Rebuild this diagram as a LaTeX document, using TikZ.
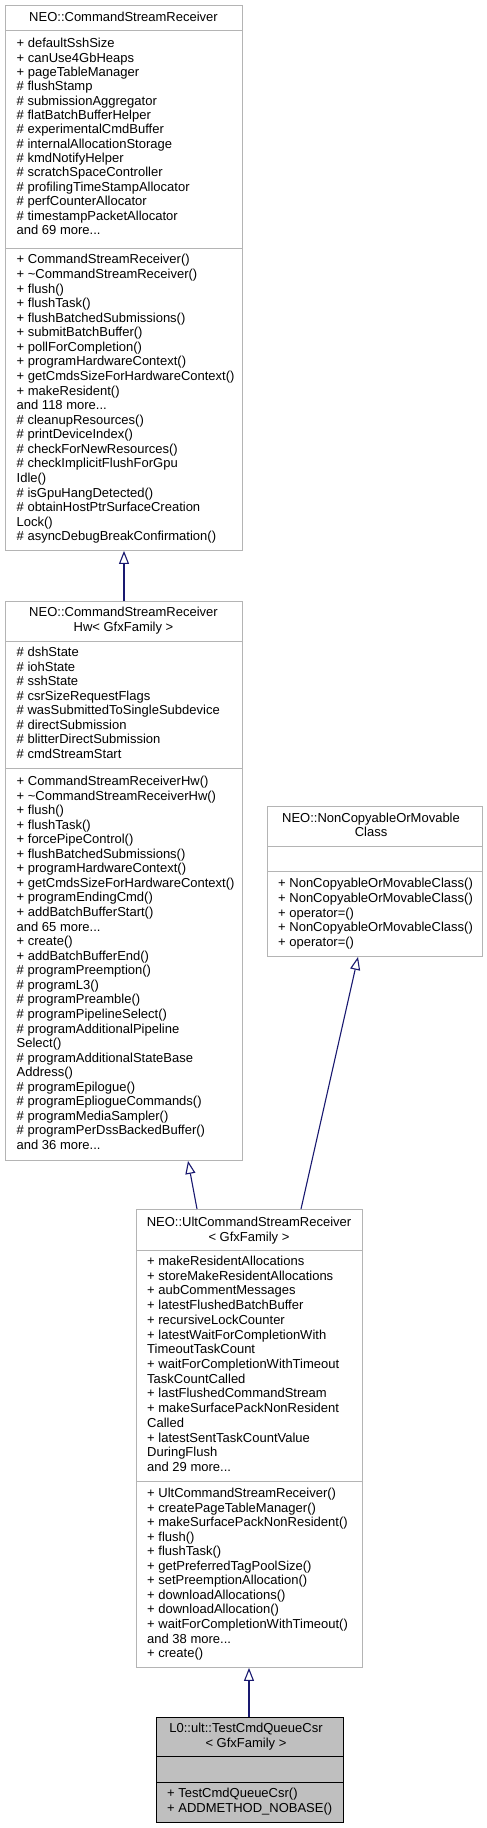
\documentclass[tikz,border=0pt]{standalone}
\usepackage{fontspec}
\setmainfont{Liberation Sans}
\usetikzlibrary{arrows.meta,calc}
\definecolor{boxgray}{RGB}{180,180,180}
\definecolor{edgeblue}{RGB}{25,25,112}
\definecolor{mainfill}{RGB}{191,191,191}
\newcommand\mdots{.{}.{}.}
\newcommand\umllines[5]{%
  \foreach \t [count=\i] in {#5} {
    \node[txt] (#1\i) at (#2, {#3 + (\i-1)*#4 + 4.5}) {\t};
  }%
}
\newcommand\umltitle[5]{%
  \foreach \t [count=\i] in {#5} {
    \node[ttl] (#1\i) at (#2, {#3 + (\i-1)*#4 + 4.5}) {\t};
  }%
}
\begin{document}
\begin{tikzpicture}[x=1pt,y=-1pt,
  cls/.style={draw=boxgray,line width=0.9pt,fill=white,rectangle,inner sep=0pt,anchor=north west},
  mainbox/.style={draw=black,line width=0.9pt,fill=mainfill,rectangle,inner sep=0pt,anchor=north west},
  sepline/.style={draw=boxgray,line width=0.9pt},
  mainsep/.style={draw=black,line width=0.9pt},
  txt/.style={anchor=base west,inner sep=0pt,font=\fontsize{13}{14.5}\selectfont},
  ttl/.style={anchor=base,inner sep=0pt,font=\fontsize{13}{14.5}\selectfont},
  inh/.style={draw=edgeblue,line width=1.1pt,-{Triangle[open,length=13pt,width=10pt,line width=1.1pt]}}
]
\useasboundingbox (0,0) rectangle (487,1828);

% Box 1: CommandStreamReceiver
\node[cls,minimum width=237pt,minimum height=545pt] (csr) at (5,5) {};
\draw[sepline] (csr.west |- 0,30) -- (csr.east |- 0,30);
\draw[sepline] (csr.west |- 0,248) -- (csr.east |- 0,248);
\umltitle{csrT}{123.5}{16.7}{14.5}{NEO::CommandStreamReceiver}
\umllines{csrA}{16.5}{43.3}{14.35}{+ defaultSshSize,+ canUse4GbHeaps,+ pageTableManager,\# flushStamp,\# submissionAggregator,\# flatBatchBufferHelper,\# experimentalCmdBuffer,\# internalAllocationStorage,\# kmdNotifyHelper,\# scratchSpaceController,\# profilingTimeStampAllocator,\# perfCounterAllocator,\# timestampPacketAllocator,and 69 more\mdots}
\umllines{csrM}{16.5}{259.4}{14.57}{+ CommandStreamReceiver(),+ \textasciitilde CommandStreamReceiver(),+ flush(),+ flushTask(),+ flushBatchedSubmissions(),+ submitBatchBuffer(),+ pollForCompletion(),+ programHardwareContext(),+ getCmdsSizeForHardwareContext(),+ makeResident(),and 118 more\mdots,\# cleanupResources(),\# printDeviceIndex(),\# checkForNewResources(),\# checkImplicitFlushForGpu,Idle(),\# isGpuHangDetected(),\# obtainHostPtrSurfaceCreation,Lock(),\# asyncDebugBreakConfirmation()}

% Box 2: CommandStreamReceiverHw
\node[cls,minimum width=237pt,minimum height=559pt] (hw) at (5,601) {};
\draw[sepline] (hw.west |- 0,641) -- (hw.east |- 0,641);
\draw[sepline] (hw.west |- 0,768) -- (hw.east |- 0,768);
\umltitle{hwT}{123.5}{612}{14.8}{NEO::CommandStreamReceiver,Hw< GfxFamily >}
\umllines{hwA}{16.5}{652}{14.57}{\# dshState,\# iohState,\# sshState,\# csrSizeRequestFlags,\# wasSubmittedToSingleSubdevice,\# directSubmission,\# blitterDirectSubmission,\# cmdStreamStart}
\umllines{hwM}{16.5}{781}{14.56}{+ CommandStreamReceiverHw(),+ \textasciitilde CommandStreamReceiverHw(),+ flush(),+ flushTask(),+ forcePipeControl(),+ flushBatchedSubmissions(),+ programHardwareContext(),+ getCmdsSizeForHardwareContext(),+ programEndingCmd(),+ addBatchBufferStart(),and 65 more\mdots,+ create(),+ addBatchBufferEnd(),\# programPreemption(),\# programL3(),\# programPreamble(),\# programPipelineSelect(),\# programAdditionalPipeline,Select(),\# programAdditionalStateBase,Address(),\# programEpilogue(),\# programEpliogueCommands(),\# programMediaSampler(),\# programPerDssBackedBuffer(),and 36 more\mdots}

% Box 3: NonCopyableOrMovableClass
\node[cls,minimum width=215pt,minimum height=150pt] (ncm) at (267,806) {};
\draw[sepline] (ncm.west |- 0,846) -- (ncm.east |- 0,846);
\draw[sepline] (ncm.west |- 0,871) -- (ncm.east |- 0,871);
\umltitle{ncmT}{371}{818}{14.3}{NEO::NonCopyableOrMovable,Class}
\umllines{ncmM}{278}{883}{14.75}{+ NonCopyableOrMovableClass(),+ NonCopyableOrMovableClass(),+ operator=(),+ NonCopyableOrMovableClass(),+ operator=()}

% Box 4: UltCommandStreamReceiver
\node[cls,minimum width=226pt,minimum height=458pt] (ult) at (136,1209) {};
\draw[sepline] (ult.west |- 0,1250) -- (ult.east |- 0,1250);
\draw[sepline] (ult.west |- 0,1481) -- (ult.east |- 0,1481);
\umltitle{ultT}{249}{1222}{14.8}{NEO::UltCommandStreamReceiver,< GfxFamily >}
\umllines{ultA}{147}{1261}{14.71}{+ makeResidentAllocations,+ storeMakeResidentAllocations,+ aubCommentMessages,+ latestFlushedBatchBuffer,+ recursiveLockCounter,+ latestWaitForCompletionWith,TimeoutTaskCount,+ waitForCompletionWithTimeout,TaskCountCalled,+ lastFlushedCommandStream,+ makeSurfacePackNonResident,Called,+ latestSentTaskCountValue,DuringFlush,and 29 more\mdots}
\umllines{ultM}{147}{1493}{14.55}{+ UltCommandStreamReceiver(),+ createPageTableManager(),+ makeSurfacePackNonResident(),+ flush(),+ flushTask(),+ getPreferredTagPoolSize(),+ setPreemptionAllocation(),+ downloadAllocations(),+ downloadAllocation(),+ waitForCompletionWithTimeout(),and 38 more\mdots,+ create()}

% Box 5: TestCmdQueueCsr
\node[mainbox,minimum width=187pt,minimum height=105pt] (tcq) at (156,1717) {};
\draw[mainsep] (tcq.west |- 0,1756) -- (tcq.east |- 0,1756);
\draw[mainsep] (tcq.west |- 0,1782) -- (tcq.east |- 0,1782);
\umltitle{tcqT}{246}{1728}{15}{L0::ult::TestCmdQueueCsr,< GfxFamily >}
\umllines{tcqM}{167}{1793}{15}{+ TestCmdQueueCsr(),+ ADDMETHOD\_NOBASE()}

% Inheritance connectors
\draw[inh] (hw.north -| 124,0) -- (csr.south -| 124,0);
\draw[inh] (tcq.north -| 249,0) -- (ult.south -| 249,0);
\draw[inh] (ult.north -| 197,0) -- (hw.south -| 188,0);
\draw[inh] (ult.north -| 301,0) -- (ncm.south -| 358,0);
\end{tikzpicture}
\end{document}
